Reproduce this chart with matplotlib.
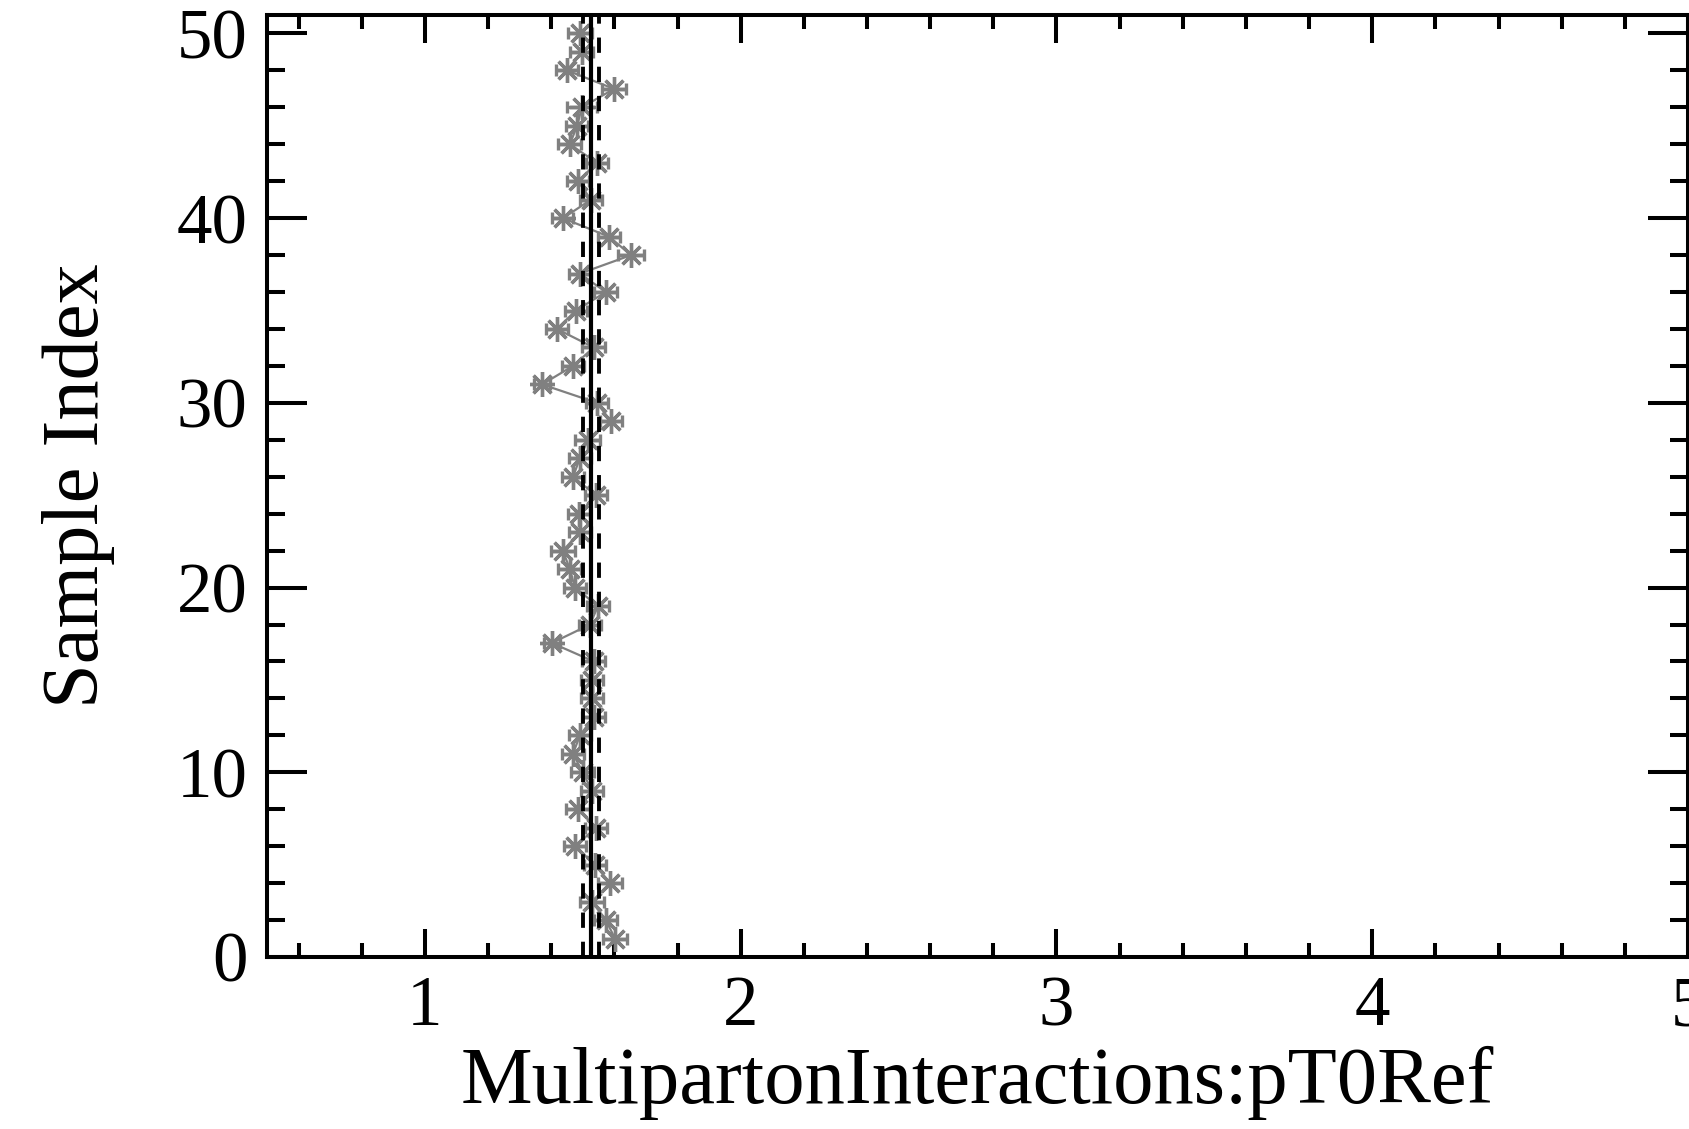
import matplotlib
matplotlib.use("Agg")
import matplotlib.pyplot as plt
from matplotlib.ticker import MultipleLocator

sample_index = list(range(1, 51))
pt0ref = [1.602, 1.573, 1.529, 1.586, 1.539, 1.475, 1.542, 1.485, 1.529, 1.500,
          1.469, 1.491, 1.535, 1.529, 1.529, 1.535, 1.402, 1.523, 1.548, 1.475,
          1.459, 1.437, 1.491, 1.488, 1.542, 1.469, 1.491, 1.516, 1.589, 1.545,
          1.371, 1.469, 1.535, 1.418, 1.478, 1.573, 1.491, 1.653, 1.583, 1.437,
          1.526, 1.485, 1.545, 1.459, 1.482, 1.497, 1.599, 1.450, 1.497, 1.491]
pt0ref_err = [0.038, 0.036, 0.038, 0.038, 0.036, 0.036, 0.036, 0.038, 0.036, 0.036,
              0.036, 0.036, 0.036, 0.034, 0.036, 0.036, 0.026, 0.036, 0.036, 0.036,
              0.036, 0.038, 0.036, 0.034, 0.036, 0.036, 0.036, 0.040, 0.036, 0.036,
              0.026, 0.036, 0.036, 0.036, 0.034, 0.036, 0.036, 0.042, 0.036, 0.033,
              0.036, 0.036, 0.036, 0.036, 0.036, 0.048, 0.037, 0.036, 0.036, 0.038]
central_value = 1.526
band_low = 1.501
band_high = 1.551

x_range = (0.5, 5.0)
y_range = (0, 51)
x_ticks = [1, 2, 3, 4, 5]
y_ticks = [0, 10, 20, 30, 40, 50]

plt.rcParams['font.family'] = ['Liberation Serif', 'DejaVu Serif']
plt.rcParams['lines.scale_dashes'] = False

fig = plt.figure(figsize=(16.9, 11.29), dpi=100)
ax = fig.add_axes([267/1690, 1 - 957/1129, (1688 - 267)/1690, (957 - 15)/1129])

gray = '#808080'
ax.errorbar(pt0ref, sample_index, xerr=pt0ref_err, fmt='-', color=gray,
            lw=1.6, elinewidth=2.4, capsize=4.0, capthick=3.0,
            marker=(8, 2, 0), markersize=18, markeredgewidth=2.4,
            markeredgecolor=gray, zorder=3)

ax.axvline(central_value, color='black', lw=3.0, zorder=4)
for v in (band_low, band_high):
    ax.axvline(v, color='black', lw=2.8, linestyle=(0, (11, 10)), zorder=4)

ax.set_xlim(*x_range)
ax.set_ylim(*y_range)
ax.set_xticks(x_ticks)
ax.set_yticks(y_ticks)
ax.xaxis.set_minor_locator(MultipleLocator(0.2))
ax.yaxis.set_minor_locator(MultipleLocator(2))

for s in ax.spines.values():
    s.set_linewidth(2.9)
ax.tick_params(which='both', direction='in', top=True, right=True, width=2.9)
ax.tick_params(axis='x', which='major', length=20)
ax.tick_params(axis='x', which='minor', length=10)
ax.tick_params(axis='y', which='major', length=29)
ax.tick_params(axis='y', which='minor', length=13)
ax.tick_params(axis='x', which='major', labelsize=51, pad=13)
ax.tick_params(axis='y', which='major', labelsize=51, pad=14)

ax.set_xlabel('MultipartonInteractions:pT0Ref', fontsize=58, labelpad=4)
ax.set_ylabel('Sample Index', fontsize=58)
ax.yaxis.set_label_coords(-0.107, 0.5)

fig.savefig('out.png', dpi=100)
